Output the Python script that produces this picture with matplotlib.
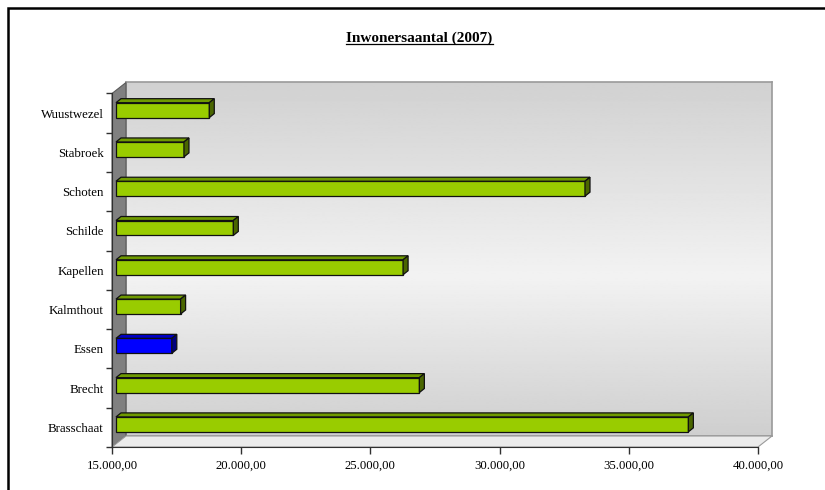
import matplotlib
matplotlib.use("Agg")
import matplotlib.pyplot as plt
import numpy as np
from matplotlib.patches import Polygon
from matplotlib.lines import Line2D
from matplotlib.transforms import IdentityTransform
from matplotlib.ticker import FuncFormatter

gemeenten = ["Brasschaat", "Brecht", "Essen", "Kalmthout", "Kapellen",
             "Schilde", "Schoten", "Stabroek", "Wuustwezel"]
inwoners = [37150, 26740, 17160, 17500, 26110, 19540, 33150, 17630, 18610]
accent = "Essen"
x_ticks = [15000, 20000, 25000, 30000, 35000, 40000]
titel = "Inwonersaantal (2007)"

plt.rcParams['font.family'] = ['Liberation Serif', 'DejaVu Serif']

W, H = 825, 490
fig = plt.figure(figsize=(W / 100, H / 100), dpi=100)


def px_rect(x0, y0, x1, y1):
    # pixel box (top-left origin) -> figure fraction
    return [x0 / W, 1 - y1 / H, (x1 - x0) / W, (y1 - y0) / H]


DEPTH = (14, 11)       # 3d depth of the whole plot, in dots
BAR_OFF = (4, 3)       # bar front face behind the front plane
BAR_DEPTH = (5, 4)

# back wall with gradient
wall = fig.add_axes(px_rect(126, 82.5, 772, 436), zorder=0)
stops_pos = [0.0, 0.45, 1.0]
stops_val = [0.81, 0.95, 0.82]
grad = np.interp(np.linspace(0, 1, 200), stops_pos, stops_val)[::-1].reshape(-1, 1)
wall.imshow(grad, cmap="gray", vmin=0, vmax=1, aspect="auto",
            extent=[0, 1, 0, 1], interpolation="bilinear")
wall.set_xticks([])
wall.set_yticks([])
for s in wall.spines.values():
    s.set_color("#9a9a9a")
    s.set_linewidth(1.2)

ax = fig.add_axes(px_rect(112, 93.5, 758, 447), zorder=1)
ax.patch.set_visible(False)
ax.set_xlim(15000, 40000)
ax.set_ylim(-0.5, len(gemeenten) - 0.5)

# side wall and floor
p00 = ax.transAxes.transform((0, 0))
p01 = ax.transAxes.transform((0, 1))
p10 = ax.transAxes.transform((1, 0))
dx, dy = DEPTH
side = Polygon([p00, p01, (p01[0] + dx, p01[1] + dy), (p00[0] + dx, p00[1] + dy)],
               closed=True, facecolor="#808080", edgecolor="#5a5a5a", linewidth=0.8,
               transform=IdentityTransform(), clip_on=False, zorder=1)
floor = Polygon([p00, p10, (p10[0] + dx, p10[1] + dy), (p00[0] + dx, p00[1] + dy)],
                closed=True, facecolor="#ebebeb", edgecolor="#9a9a9a", linewidth=0.8,
                transform=IdentityTransform(), clip_on=False, zorder=1)
ax.add_patch(side)
ax.add_patch(floor)

# bars
bar_h = 0.38
ypos = np.arange(len(gemeenten))
front_c = ["#0000ff" if g == accent else "#99cc00" for g in gemeenten]
top_c = ["#0000c4" if g == accent else "#6f9a00" for g in gemeenten]
side_c = ["#000080" if g == accent else "#4a6600" for g in gemeenten]

bx, by = BAR_OFF
ddx, ddy = BAR_DEPTH
for i, (y, v) in enumerate(zip(ypos, inwoners)):
    L, B = ax.transData.transform((15000, y - bar_h / 2))
    R, T = ax.transData.transform((v, y + bar_h / 2))
    L, R, B, T = L + bx, R + bx, B + by, T + by
    kw = dict(transform=IdentityTransform(), clip_on=False, edgecolor="#111111",
              linewidth=0.9, zorder=3, joinstyle="miter")
    ax.add_patch(Polygon([(L, B), (R, B), (R, T), (L, T)], facecolor=front_c[i], **kw))
    ax.add_patch(Polygon([(L, T), (R, T), (R + ddx, T + ddy), (L + ddx, T + ddy)],
                         facecolor=top_c[i], **kw))
    ax.add_patch(Polygon([(R, B), (R, T), (R + ddx, T + ddy), (R + ddx, B + ddy)],
                         facecolor=side_c[i], **kw))

# axes styling
for s in ["top", "right"]:
    ax.spines[s].set_visible(False)
ax.spines["left"].set_color("#303030")
ax.spines["bottom"].set_color("#303030")
ax.spines["left"].set_zorder(2)
ax.spines["bottom"].set_zorder(2)


def nl_fmt(v, pos):
    return f"{v:,.2f}".replace(",", "X").replace(".", ",").replace("X", ".")


ax.set_xticks(x_ticks)
ax.xaxis.set_major_formatter(FuncFormatter(nl_fmt))
ax.tick_params(axis="x", direction="out", length=5, width=1, color="#303030",
               labelsize=9.2, pad=4)
ax.set_yticks(ypos)
ax.set_yticklabels(gemeenten)
ax.set_yticks(np.arange(len(gemeenten) + 1) - 0.5, minor=True)
ax.tick_params(axis="y", which="major", length=0, labelsize=9.3, pad=6)
ax.tick_params(axis="y", which="minor", direction="out", length=4, width=1,
               color="#303030")

# title with underline
t = fig.text(419.5 / W, 1 - 42 / H, titel, ha="center", va="baseline",
             fontsize=11, fontweight="bold")
fig.canvas.draw()
bb = t.get_window_extent()
yb = (1 - 42 / H) * H - 2.2
fig.add_artist(Line2D([bb.x0, bb.x1], [yb, yb], color="black", linewidth=0.9,
                      transform=IdentityTransform()))

# outer frame (left and top edges)
fig.add_artist(Line2D([7.5, 7.5, W], [0, H - 7.5, H - 7.5], color="black",
                      linewidth=1.8, transform=IdentityTransform(),
                      solid_joinstyle="miter"))

fig.savefig("out.png", dpi=100)
